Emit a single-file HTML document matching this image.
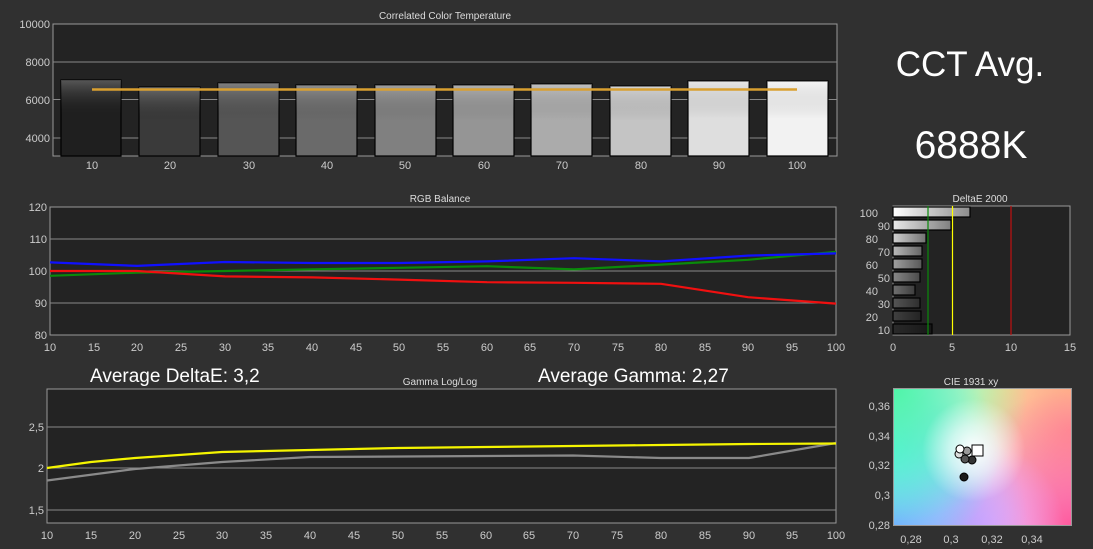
<!DOCTYPE html>
<html><head><meta charset="utf-8"><style>
html,body{margin:0;padding:0;background:#303030;}
#wrap{position:relative;width:1093px;height:549px;overflow:hidden;font-family:"Liberation Sans",sans-serif;}
svg{position:absolute;left:0;top:0;}
#cie{position:absolute;left:893px;top:388px;width:179px;height:138px;
background:
radial-gradient(circle at 45% 45%, rgba(255,255,255,1) 0%, rgba(255,255,255,0.6) 20%, rgba(255,255,255,0) 42%),
radial-gradient(circle at 0% 0%, #4ff5a8 0%, rgba(79,245,168,0) 60%),
radial-gradient(circle at 0% 45%, #5cf0f5 0%, rgba(92,240,245,0) 55%),
radial-gradient(circle at 0% 100%, #7d9cff 0%, rgba(125,156,255,0) 60%),
radial-gradient(circle at 50% 100%, #f0a8ff 0%, rgba(240,168,255,0) 50%),
radial-gradient(circle at 100% 100%, #ff5a9e 0%, rgba(255,90,158,0) 60%),
radial-gradient(circle at 100% 30%, #ff9a90 0%, rgba(255,154,144,0) 50%),
radial-gradient(circle at 100% 0%, #ffc880 0%, rgba(255,200,128,0) 50%),
radial-gradient(circle at 65% 0%, #ffffa8 0%, rgba(255,255,168,0) 45%),
#e8e8f8;
box-sizing:border-box;border:1px solid #999;}
</style></head><body><div id="wrap">
<svg width="1093" height="549" viewBox="0 0 1093 549" font-family="Liberation Sans, sans-serif">
<defs>
<linearGradient id="bg" x1="0" y1="0" x2="0" y2="1"><stop offset="0" stop-color="#fff" stop-opacity="0.25"/><stop offset="0.5" stop-color="#000" stop-opacity="0.0"/></linearGradient>
<linearGradient id="hb" x1="0" y1="0" x2="1" y2="0"><stop offset="0" stop-color="#000" stop-opacity="0"/><stop offset="1" stop-color="#000" stop-opacity="0.45"/></linearGradient>
</defs>
<text x="445" y="19" fill="#ddd" font-size="10" text-anchor="middle">Correlated Color Temperature</text>
<rect x="53" y="24" width="784" height="132" fill="#232323" stroke="#999" stroke-width="1"/>
<g stroke="#888" stroke-width="1"><line x1="53" y1="62" x2="837" y2="62"/><line x1="53" y1="99.5" x2="837" y2="99.5"/><line x1="53" y1="138" x2="837" y2="138"/></g>
<g fill="#ccc" font-size="11" text-anchor="end"><text x="50" y="28">10000</text><text x="50" y="66">8000</text><text x="50" y="104">6000</text><text x="50" y="142">4000</text></g>
<g stroke="#000" stroke-width="1.2">
<rect x="61" y="80" width="60" height="76" fill="#1f1f1f"/>
<rect x="139" y="87" width="61" height="69" fill="#3a3a3a"/>
<rect x="218" y="83" width="61" height="73" fill="#555"/>
<rect x="296" y="85" width="61" height="71" fill="#6a6a6a"/>
<rect x="375" y="85" width="61" height="71" fill="#808080"/>
<rect x="453" y="85" width="61" height="71" fill="#959595"/>
<rect x="531" y="84" width="61" height="72" fill="#ababab"/>
<rect x="610" y="86" width="61" height="70" fill="#c4c4c4"/>
<rect x="688" y="81" width="61" height="75" fill="#dedede"/>
<rect x="767" y="81" width="61" height="75" fill="#f2f2f2"/>
</g>
<g fill="url(#bg)">
<rect x="61" y="80" width="60" height="76"/><rect x="139" y="87" width="61" height="69"/><rect x="218" y="83" width="61" height="73"/><rect x="296" y="85" width="61" height="71"/><rect x="375" y="85" width="61" height="71"/><rect x="453" y="85" width="61" height="71"/><rect x="531" y="84" width="61" height="72"/><rect x="610" y="86" width="61" height="70"/><rect x="688" y="81" width="61" height="75"/><rect x="767" y="81" width="61" height="75"/>
</g>
<line x1="92" y1="89.5" x2="797" y2="89.5" stroke="#d9a030" stroke-width="2.5"/>
<g fill="#ccc" font-size="11" text-anchor="middle"><text x="92" y="169">10</text><text x="170" y="169">20</text><text x="249" y="169">30</text><text x="327" y="169">40</text><text x="405" y="169">50</text><text x="484" y="169">60</text><text x="562" y="169">70</text><text x="641" y="169">80</text><text x="719" y="169">90</text><text x="797" y="169">100</text></g>
<text x="970" y="76" fill="#fff" font-size="35" text-anchor="middle">CCT Avg.</text>
<text x="971" y="158" fill="#fff" font-size="39" text-anchor="middle">6888K</text>
<text x="440" y="202" fill="#ddd" font-size="10" text-anchor="middle">RGB Balance</text>
<rect x="50" y="207" width="786" height="128" fill="#232323" stroke="#999"/>
<g stroke="#888"><line x1="50" y1="239" x2="836" y2="239"/><line x1="50" y1="271" x2="836" y2="271"/><line x1="50" y1="303" x2="836" y2="303"/></g>
<g fill="#ccc" font-size="11" text-anchor="end"><text x="47" y="211">120</text><text x="47" y="243">110</text><text x="47" y="275">100</text><text x="47" y="307">90</text><text x="47" y="339">80</text></g>
<g fill="#ccc" font-size="11" text-anchor="middle"><text x="50" y="351">10</text><text x="94" y="351">15</text><text x="137" y="351">20</text><text x="181" y="351">25</text><text x="225" y="351">30</text><text x="268" y="351">35</text><text x="312" y="351">40</text><text x="356" y="351">45</text><text x="399" y="351">50</text><text x="443" y="351">55</text><text x="487" y="351">60</text><text x="530" y="351">65</text><text x="574" y="351">70</text><text x="618" y="351">75</text><text x="661" y="351">80</text><text x="705" y="351">85</text><text x="748" y="351">90</text><text x="792" y="351">95</text><text x="836" y="351">100</text></g>
<g fill="none" stroke-width="2.2" stroke-linejoin="round">
<polyline stroke="#0a8a0a" points="50,275.8 137,272.6 225,271 312,269.4 399,267.8 487,266.2 574,269.4 661,264.6 748,259.8 836,251.8"/>
<polyline stroke="#1010ff" points="50,262.4 137,265.9 225,262 312,263 399,263 487,261.4 574,258.2 661,261.4 748,255.6 836,253.4"/>
<polyline stroke="#f01010" points="50,271 137,271 225,276.4 312,277.4 399,279.6 487,282.2 574,282.8 661,283.8 748,297.2 836,303.6"/>
</g>
<text x="90" y="382" fill="#fff" font-size="19">Average DeltaE: 3,2</text>
<text x="538" y="382" fill="#fff" font-size="19">Average Gamma: 2,27</text>
<text x="440" y="385" fill="#ddd" font-size="10" text-anchor="middle">Gamma Log/Log</text>
<rect x="47" y="389" width="789" height="134" fill="#232323" stroke="#999"/>
<g stroke="#888"><line x1="47" y1="427" x2="836" y2="427"/><line x1="47" y1="468" x2="836" y2="468"/><line x1="47" y1="510" x2="836" y2="510"/></g>
<g fill="#ccc" font-size="11" text-anchor="end"><text x="44" y="431">2,5</text><text x="44" y="472">2</text><text x="44" y="514">1,5</text></g>
<g fill="#ccc" font-size="11" text-anchor="middle"><text x="47" y="539">10</text><text x="91" y="539">15</text><text x="135" y="539">20</text><text x="179" y="539">25</text><text x="222" y="539">30</text><text x="266" y="539">35</text><text x="310" y="539">40</text><text x="354" y="539">45</text><text x="398" y="539">50</text><text x="442" y="539">55</text><text x="486" y="539">60</text><text x="529" y="539">65</text><text x="573" y="539">70</text><text x="617" y="539">75</text><text x="661" y="539">80</text><text x="705" y="539">85</text><text x="749" y="539">90</text><text x="792" y="539">95</text><text x="836" y="539">100</text></g>
<g fill="none" stroke-width="2.2" stroke-linejoin="round">
<polyline stroke="#8a8a8a" points="47,480.5 135,469 222,462 310,457 573,455.5 661,458 749,458 836,443"/>
<polyline stroke="#f5f500" points="47,468 91,462 135,458 179,455 222,452 310,450 398,448 486,447 573,446 661,445 749,444 836,443.5"/>
</g>
<text x="980" y="202" fill="#ddd" font-size="10" text-anchor="middle">DeltaE 2000</text>
<rect x="893" y="206" width="177" height="129" fill="#232323" stroke="#999"/>
<g stroke="#000" stroke-width="1.2">
<rect x="893" y="207" width="77" height="10" fill="#fff"/>
<rect x="893" y="220" width="58" height="10" fill="#e8e8e8"/>
<rect x="893" y="233" width="33" height="10" fill="#d0d0d0"/>
<rect x="893" y="246" width="29" height="10" fill="#b8b8b8"/>
<rect x="893" y="259" width="29" height="10" fill="#a0a0a0"/>
<rect x="893" y="272" width="27" height="10" fill="#888"/>
<rect x="893" y="285" width="22" height="10" fill="#707070"/>
<rect x="893" y="298" width="27" height="10" fill="#555"/>
<rect x="893" y="311" width="28" height="10" fill="#404040"/>
<rect x="893" y="324" width="39" height="10" fill="#2a2a2a"/>
</g>
<g fill="url(#hb)"><rect x="893" y="207" width="77" height="10"/><rect x="893" y="220" width="58" height="10"/><rect x="893" y="233" width="33" height="10"/><rect x="893" y="246" width="29" height="10"/><rect x="893" y="259" width="29" height="10"/><rect x="893" y="272" width="27" height="10"/><rect x="893" y="285" width="22" height="10"/><rect x="893" y="298" width="27" height="10"/><rect x="893" y="311" width="28" height="10"/><rect x="893" y="324" width="39" height="10"/></g>
<line x1="928" y1="206" x2="928" y2="335" stroke="#0a8a0a" stroke-width="1.2"/>
<line x1="952.5" y1="206" x2="952.5" y2="335" stroke="#ffff00" stroke-width="1.2"/>
<line x1="1011" y1="206" x2="1011" y2="335" stroke="#c01010" stroke-width="1.2"/>
<g fill="#ccc" font-size="11" text-anchor="end"><text x="878" y="217">100</text><text x="890" y="230">90</text><text x="878" y="243">80</text><text x="890" y="256">70</text><text x="878" y="269">60</text><text x="890" y="282">50</text><text x="878" y="295">40</text><text x="890" y="308">30</text><text x="878" y="321">20</text><text x="890" y="334">10</text></g>
<g fill="#ccc" font-size="11" text-anchor="middle"><text x="893" y="351">0</text><text x="952" y="351">5</text><text x="1011" y="351">10</text><text x="1070" y="351">15</text></g>
<text x="971" y="385" fill="#ddd" font-size="10" text-anchor="middle">CIE 1931 xy</text>
<g fill="#ccc" font-size="11" text-anchor="end"><text x="890" y="410">0,36</text><text x="890" y="440">0,34</text><text x="890" y="469">0,32</text><text x="890" y="499">0,3</text><text x="890" y="529">0,28</text></g>
<g fill="#ccc" font-size="11" text-anchor="middle"><text x="911" y="543">0,28</text><text x="951" y="543">0,3</text><text x="992" y="543">0,32</text><text x="1032" y="543">0,34</text></g>
</svg>
<div id="cie"></div>
<svg width="1093" height="549" style="pointer-events:none">
<g stroke="#000" stroke-width="1">
<circle cx="964" cy="477" r="4" fill="#1a1a1a"/>
<circle cx="972" cy="460" r="4" fill="#333"/>
<circle cx="965" cy="459" r="4" fill="#555"/>
<circle cx="967" cy="451" r="4" fill="#999"/>
<circle cx="959" cy="454" r="4" fill="#ddd"/>
<circle cx="960" cy="449" r="4" fill="#fff"/>
<rect x="972" y="445" width="11" height="11" fill="#fff"/>
</g>
</svg>
</div></body></html>
